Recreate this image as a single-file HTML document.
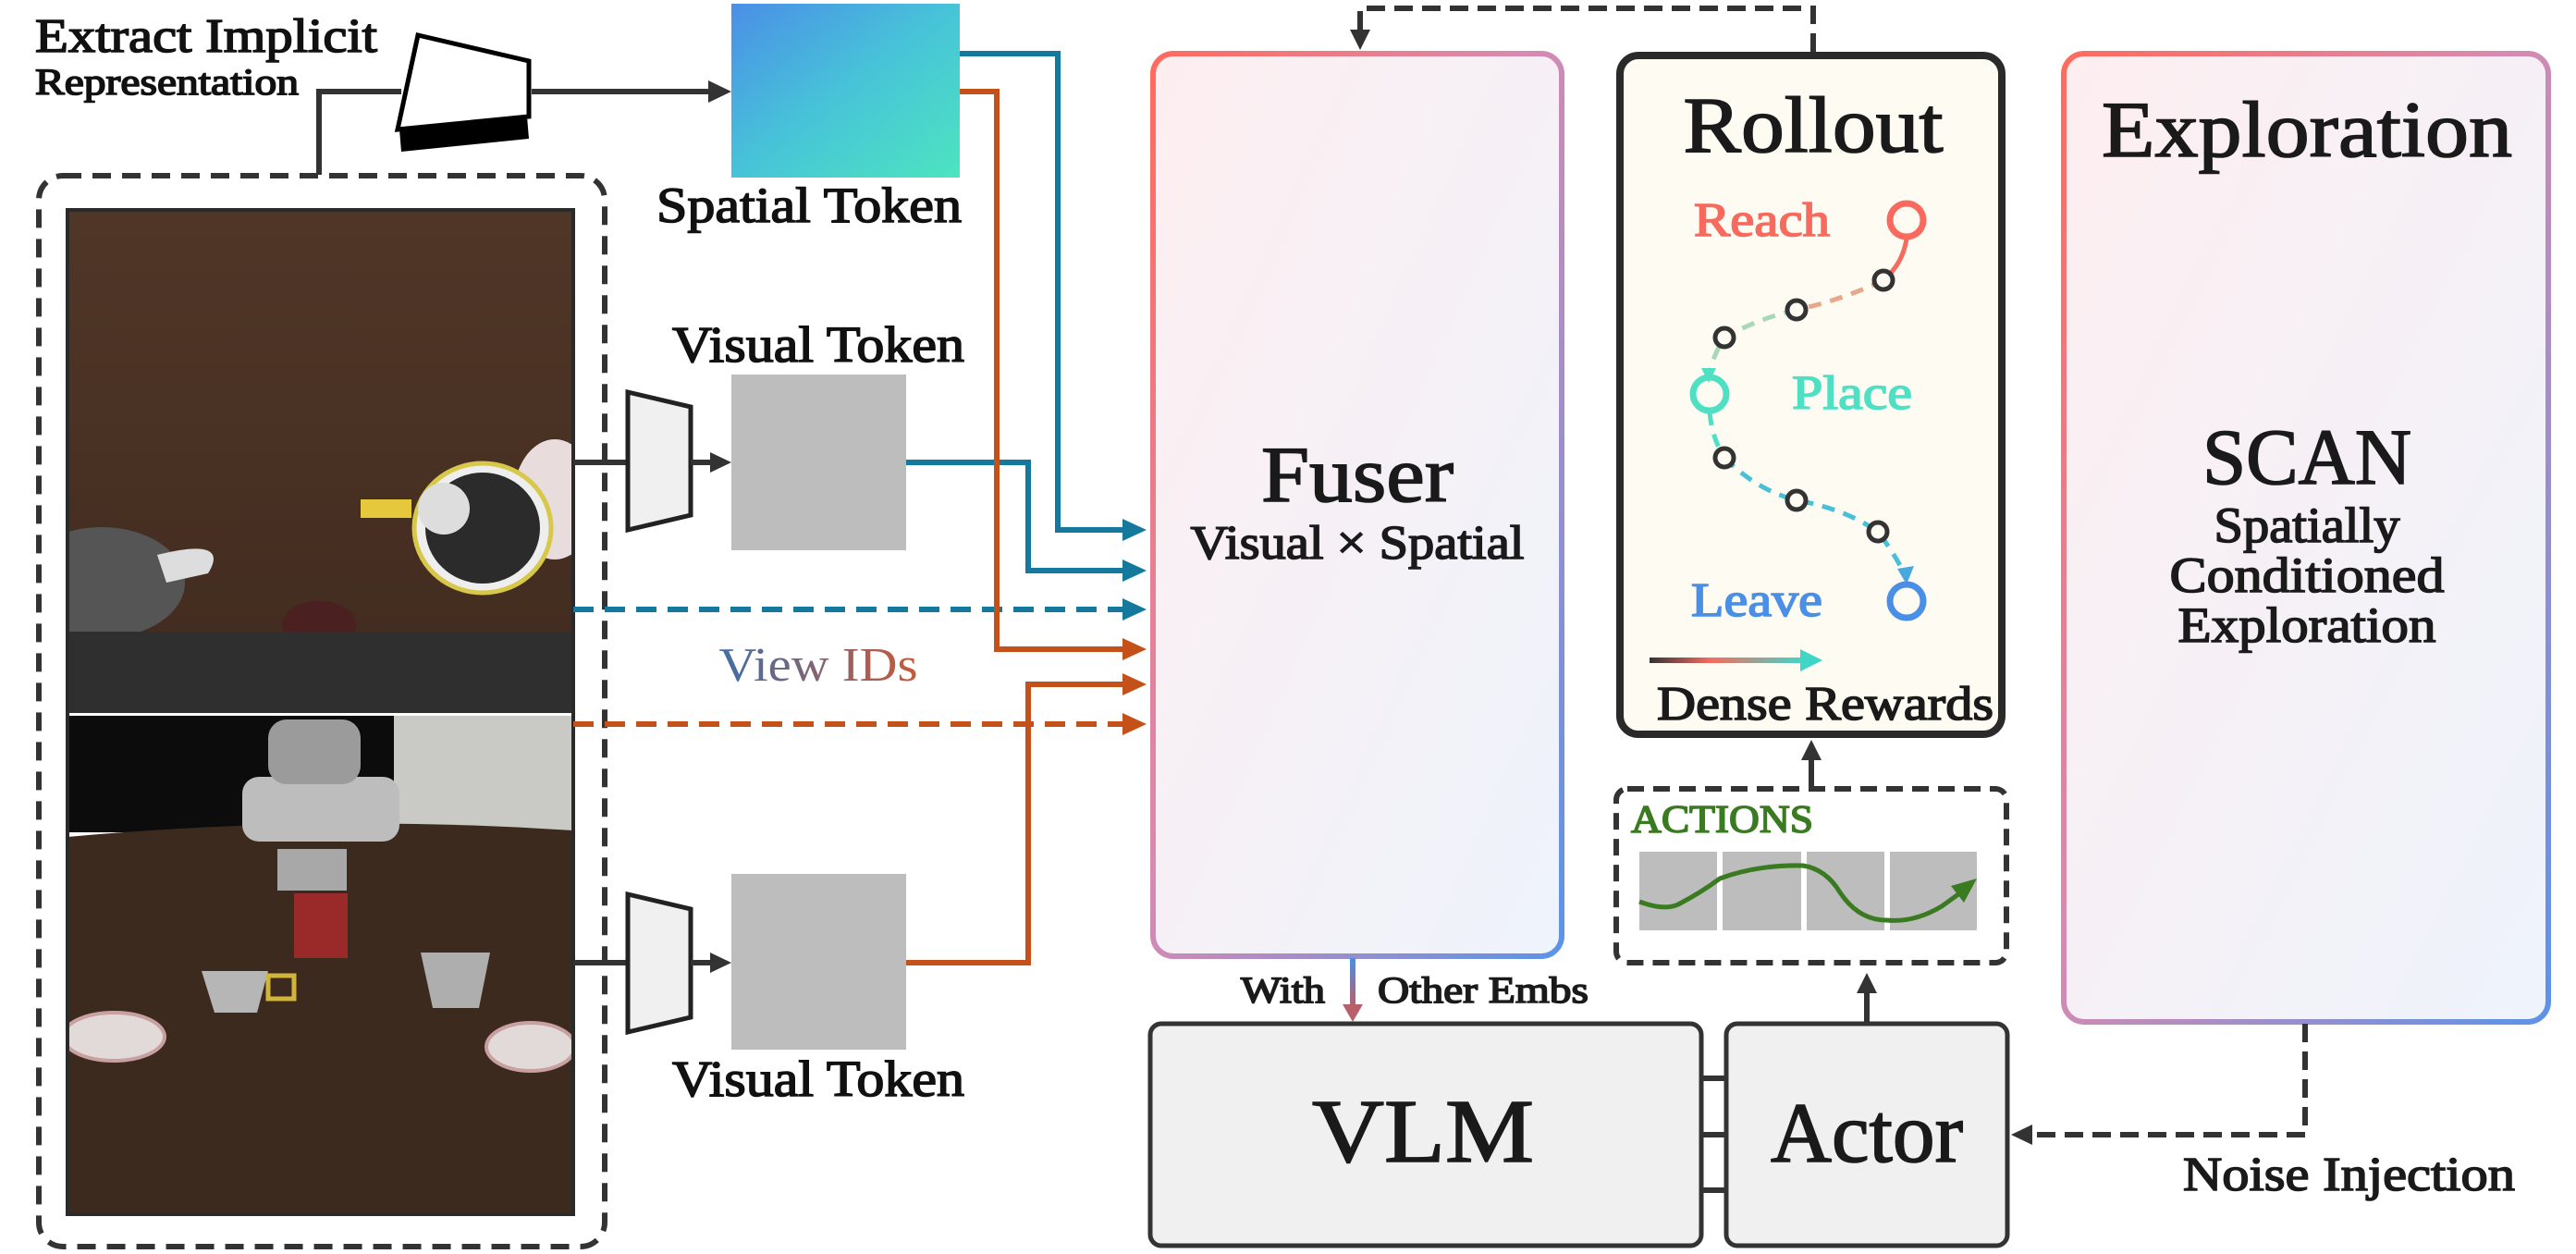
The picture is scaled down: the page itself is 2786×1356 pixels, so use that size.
<!DOCTYPE html>
<html><head><meta charset="utf-8"><style>
html,body{margin:0;padding:0;background:#fff;}
svg{display:block;}
text{font-family:"Liberation Serif",serif;stroke:currentColor;stroke-width:1.6px;}
</style></head><body>
<svg width="2786" height="1356" viewBox="0 0 2786 1356" xmlns="http://www.w3.org/2000/svg">
<defs>
<linearGradient id="sp" x1="0" y1="0" x2="1" y2="1"><stop offset="0" stop-color="#4a8fe6"/><stop offset="0.5" stop-color="#47c4d8"/><stop offset="1" stop-color="#4de4c0"/></linearGradient>
<linearGradient id="bord" x1="0" y1="0" x2="1" y2="1"><stop offset="0" stop-color="#ff6b5e"/><stop offset="0.45" stop-color="#d98ab0"/><stop offset="1" stop-color="#5b93e8"/></linearGradient>
<linearGradient id="fill" x1="0" y1="0" x2="1" y2="1"><stop offset="0" stop-color="#fdeef0"/><stop offset="1" stop-color="#eef3fc"/></linearGradient>
<linearGradient id="vid" x1="0" y1="0" x2="1" y2="0"><stop offset="0" stop-color="#3f6fa6"/><stop offset="1" stop-color="#c85a3a"/></linearGradient>
<linearGradient id="dr" x1="0" y1="0" x2="1" y2="0"><stop offset="0" stop-color="#333"/><stop offset="0.4" stop-color="#f56c5f"/><stop offset="1" stop-color="#3fd6c8"/></linearGradient>
<linearGradient id="we" x1="0" y1="0" x2="0" y2="1"><stop offset="0" stop-color="#4a90e2"/><stop offset="1" stop-color="#b8606a"/></linearGradient>
<linearGradient id="wood" x1="0" y1="0" x2="0" y2="1"><stop offset="0" stop-color="#503627"/><stop offset="1" stop-color="#432d20"/></linearGradient>
<clipPath id="imc"><rect x="73" y="227" width="547" height="1086"/></clipPath>
</defs>

<g color="#111" fill="#111">
<text x="38" y="56" font-size="52" textLength="370" lengthAdjust="spacingAndGlyphs">Extract Implicit</text>
<text x="38" y="102" font-size="40" textLength="285" lengthAdjust="spacingAndGlyphs">Representation</text>
</g>
<!-- encoder 3d -->
<polygon points="432,140 570,126 572,150 434,164" fill="#000"/>
<polygon points="452,38 572,66 572,126 430,140" fill="#fff" stroke="#000" stroke-width="5"/>
<polyline points="345,189 345,99 434,99" fill="none" stroke="#333" stroke-width="6"/>
<line x1="575" y1="99" x2="768" y2="99" stroke="#333" stroke-width="6"/>
<polygon points="766,87 791,99 766,111" fill="#333"/>

<!-- spatial token -->
<rect x="791" y="4" width="247" height="188" fill="url(#sp)"/>
<text x="875" y="240" font-size="54" text-anchor="middle" color="#111" fill="#111" textLength="330" lengthAdjust="spacingAndGlyphs">Spatial Token</text>

<!-- dashed box and image -->
<rect x="42" y="190" width="612" height="1158" rx="26" fill="none" stroke="#333" stroke-width="6" stroke-dasharray="20,12"/>
<g clip-path="url(#imc)">
<rect x="73" y="227" width="547" height="456" fill="url(#wood)"/>
<ellipse cx="600" cy="540" rx="45" ry="65" fill="#e8dcdc"/>
<ellipse cx="522" cy="571" rx="74" ry="70" fill="#eee" stroke="#d8c84a" stroke-width="5"/>
<ellipse cx="522" cy="571" rx="62" ry="60" fill="#2b2b2b"/>
<ellipse cx="480" cy="550" rx="28" ry="28" fill="#ddd"/>
<rect x="390" y="540" width="55" height="20" fill="#e6c83c"/>
<ellipse cx="110" cy="630" rx="90" ry="60" fill="#555"/>
<path d="M170,600 Q250,580 225,620 L180,630z" fill="#ddd"/>
<ellipse cx="345" cy="675" rx="40" ry="25" fill="#4a2020"/>
<rect x="73" y="683" width="547" height="88" fill="#2f2f2f"/>
<rect x="73" y="774" width="547" height="126" fill="#0c0c0c"/>
<rect x="426" y="774" width="194" height="126" fill="#c9c9c6"/>
<path d="M73,905 Q346,880 620,898 L620,1313 L73,1313z" fill="#3d2a1f"/>
<rect x="262" y="840" width="170" height="70" rx="18" fill="#bdbdbd"/>
<rect x="290" y="778" width="100" height="70" rx="20" fill="#9b9b9b"/>
<rect x="300" y="918" width="75" height="45" fill="#a8a8a8"/>
<rect x="318" y="966" width="58" height="70" fill="#9a2a2a"/>
<path d="M218,1050 L290,1050 L278,1095 L232,1095z" fill="#b6b6b6"/>
<rect x="290" y="1055" width="28" height="25" fill="none" stroke="#d1b53a" stroke-width="5"/>
<path d="M455,1030 L530,1030 L518,1090 L468,1090z" fill="#aeaeae"/>
<ellipse cx="123" cy="1121" rx="55" ry="26" fill="#e2d9d9" stroke="#c9a0a0" stroke-width="4"/>
<ellipse cx="574" cy="1132" rx="48" ry="26" fill="#e2d9d9" stroke="#c9a0a0" stroke-width="4"/>
</g>
<rect x="73" y="227" width="547" height="1086" fill="none" stroke="#2a2a2a" stroke-width="4"/>

<!-- visual tokens -->
<text x="885" y="391" font-size="55" text-anchor="middle" color="#111" fill="#111" textLength="316" lengthAdjust="spacingAndGlyphs">Visual Token</text>
<rect x="791" y="405" width="189" height="190" fill="#bdbdbd"/>
<line x1="620" y1="500" x2="679" y2="500" stroke="#333" stroke-width="6"/>
<polygon points="679,424 747,440 747,557 679,573" fill="#f0f0f0" stroke="#222" stroke-width="5"/>
<line x1="747" y1="500" x2="770" y2="500" stroke="#333" stroke-width="6"/>
<polygon points="768,489 791,500 768,511" fill="#333"/>

<rect x="791" y="945" width="189" height="190" fill="#bdbdbd"/>
<line x1="620" y1="1041" x2="679" y2="1041" stroke="#333" stroke-width="6"/>
<polygon points="679,967 747,983 747,1100 679,1116" fill="#f0f0f0" stroke="#222" stroke-width="5"/>
<line x1="747" y1="1041" x2="770" y2="1041" stroke="#333" stroke-width="6"/>
<polygon points="768,1030 791,1041 768,1052" fill="#333"/>
<text x="885" y="1185" font-size="55" text-anchor="middle" color="#111" fill="#111" textLength="316" lengthAdjust="spacingAndGlyphs">Visual Token</text>

<!-- colored connectors -->
<g fill="none" stroke-width="6">
<polyline points="1038,58 1144,58 1144,573 1220,573" stroke="#15799e"/>
<polyline points="980,500 1112,500 1112,617 1220,617" stroke="#15799e"/>
<line x1="620" y1="659" x2="1220" y2="659" stroke="#15799e" stroke-dasharray="22,12"/>
<polyline points="1038,99 1078,99 1078,702 1220,702" stroke="#c4511a"/>
<polyline points="980,1041 1112,1041 1112,740 1220,740" stroke="#c4511a"/>
<line x1="620" y1="783" x2="1220" y2="783" stroke="#c4511a" stroke-dasharray="22,12"/>
</g>
<g>
<polygon points="1214,561 1240,573 1214,585" fill="#15799e"/>
<polygon points="1214,605 1240,617 1214,629" fill="#15799e"/>
<polygon points="1214,647 1240,659 1214,671" fill="#15799e"/>
<polygon points="1214,690 1240,702 1214,714" fill="#c4511a"/>
<polygon points="1214,728 1240,740 1214,752" fill="#c4511a"/>
<polygon points="1214,771 1240,783 1214,795" fill="#c4511a"/>
</g>
<text x="885" y="736" font-size="52" text-anchor="middle" fill="url(#vid)" style="stroke:none" textLength="215" lengthAdjust="spacingAndGlyphs">View IDs</text>

<!-- fuser -->
<rect x="1247" y="58" width="442" height="976" rx="22" fill="url(#fill)" stroke="url(#bord)" stroke-width="6"/>
<g color="#1a1a1a" fill="#1a1a1a">
<text x="1468" y="542" font-size="86" text-anchor="middle" textLength="208" lengthAdjust="spacingAndGlyphs">Fuser</text>
<text x="1468" y="604" font-size="52" text-anchor="middle" textLength="361" lengthAdjust="spacingAndGlyphs">Visual × Spatial</text>
</g>

<!-- top dashed feedback -->
<polyline points="1961,56 1961,9 1471,9 1471,36" fill="none" stroke="#333" stroke-width="6" stroke-dasharray="20,10"/>
<polygon points="1460,32 1482,32 1471,54" fill="#333"/>

<!-- rollout -->
<rect x="1752" y="60" width="413" height="734" rx="20" fill="#fdfbf2" stroke="#2a2a2a" stroke-width="8"/>
<text x="1961" y="164" font-size="86" text-anchor="middle" color="#1a1a1a" fill="#1a1a1a" textLength="281" lengthAdjust="spacingAndGlyphs">Rollout</text>
<text x="1832" y="255" font-size="52" fill="#f86a5e" color="#f86a5e" textLength="147" lengthAdjust="spacingAndGlyphs">Reach</text>
<text x="1938" y="442" font-size="52" fill="#4fe0c4" color="#4fe0c4" textLength="130" lengthAdjust="spacingAndGlyphs">Place</text>
<text x="1829" y="666" font-size="52" fill="#4a8fe6" color="#4a8fe6" textLength="142" lengthAdjust="spacingAndGlyphs">Leave</text>
<g fill="none" stroke-width="5" stroke-dasharray="14,10">
<path d="M2062,258 Q2058,285 2037,303" stroke="#f86a5e" stroke-dasharray="none"/>
<path d="M2037,303 Q1990,325 1943,335" stroke="#e8a88a"/>
<path d="M1943,335 Q1900,345 1865,365 Q1852,385 1849,406" stroke="#a8d8b8"/>
<path d="M1849,446 Q1852,475 1865,495" stroke="#4fe0c4"/>
<path d="M1865,495 Q1900,530 1943,541 Q1995,550 2031,575 Q2050,600 2062,625" stroke="#47c0d8"/>
</g>
<polygon points="1840,398 1856,398 1848,414" fill="#4fe0c4"/>
<polygon points="2052,615 2070,612 2062,632" fill="#4aa8e0"/>
<circle cx="2062" cy="238" r="18" fill="none" stroke="#f86a5e" stroke-width="7"/>
<circle cx="1849" cy="426" r="18" fill="none" stroke="#4fe0c4" stroke-width="7"/>
<circle cx="2062" cy="650" r="18" fill="none" stroke="#4a8fe6" stroke-width="7"/>
<g fill="#fdfbf2" stroke="#333" stroke-width="5">
<circle cx="2037" cy="303" r="10"/><circle cx="1943" cy="335" r="10"/><circle cx="1865" cy="365" r="10"/>
<circle cx="1865" cy="495" r="10"/><circle cx="1943" cy="541" r="10"/><circle cx="2031" cy="575" r="10"/>
</g>
<rect x="1784" y="711" width="165" height="6" fill="url(#dr)"/>
<polygon points="1947,702 1971,714 1947,726" fill="#3fd6c8"/>
<text x="1792" y="778" font-size="52" color="#1a1a1a" fill="#1a1a1a" textLength="364" lengthAdjust="spacingAndGlyphs">Dense Rewards</text>

<!-- arrows up -->
<line x1="1959" y1="852" x2="1959" y2="820" stroke="#333" stroke-width="6"/>
<polygon points="1948,822 1970,822 1959,800" fill="#333"/>
<line x1="2019" y1="1105" x2="2019" y2="1072" stroke="#333" stroke-width="6"/>
<polygon points="2008,1074 2030,1074 2019,1052" fill="#333"/>

<!-- actions -->
<rect x="1748" y="853" width="422" height="188" rx="12" fill="none" stroke="#333" stroke-width="6" stroke-dasharray="18,10"/>
<text x="1764" y="900" font-size="42" fill="#3a7a20" color="#3a7a20" textLength="197" lengthAdjust="spacingAndGlyphs">ACTIONS</text>
<rect x="1773" y="921" width="84" height="85" fill="#bdbdbd"/>
<rect x="1863" y="921" width="85" height="85" fill="#bdbdbd"/>
<rect x="1954" y="921" width="84" height="85" fill="#bdbdbd"/>
<rect x="2044" y="921" width="94" height="85" fill="#bdbdbd"/>
<path d="M1773,975 Q1800,985 1815,978 Q1840,965 1860,950 Q1900,935 1950,936 Q1975,940 1990,965 Q2010,995 2040,995 Q2070,998 2100,980 L2118,967" fill="none" stroke="#3a7a20" stroke-width="5"/>
<polygon points="2110,958 2138,950 2124,976" fill="#3a7a20"/>

<!-- VLM / Actor -->
<rect x="1244" y="1107" width="596" height="240" rx="12" fill="#f0f0f0" stroke="#333" stroke-width="5"/>
<rect x="1867" y="1107" width="304" height="240" rx="12" fill="#f0f0f0" stroke="#333" stroke-width="5"/>
<g color="#1a1a1a" fill="#1a1a1a">
<text x="1539" y="1256" font-size="98" text-anchor="middle" textLength="240" lengthAdjust="spacingAndGlyphs">VLM</text>
<text x="2019" y="1256" font-size="92" text-anchor="middle" textLength="208" lengthAdjust="spacingAndGlyphs">Actor</text>
<text x="1342" y="1084" font-size="40" textLength="91" lengthAdjust="spacingAndGlyphs">With</text>
<text x="1490" y="1084" font-size="40" textLength="228" lengthAdjust="spacingAndGlyphs">Other Embs</text>
</g>
<g stroke="#333" stroke-width="6"><line x1="1840" y1="1166" x2="1867" y2="1166"/><line x1="1840" y1="1227" x2="1867" y2="1227"/><line x1="1840" y1="1287" x2="1867" y2="1287"/></g>

<!-- with other embs -->
<rect x="1460" y="1036" width="6" height="52" fill="url(#we)"/>
<polygon points="1452,1086 1474,1086 1463,1105" fill="#b8606a"/>

<!-- exploration -->
<rect x="2232" y="58" width="524" height="1047" rx="22" fill="url(#fill)" stroke="url(#bord)" stroke-width="6"/>
<g color="#1a1a1a" fill="#1a1a1a">
<text x="2495" y="169" font-size="86" text-anchor="middle" textLength="444" lengthAdjust="spacingAndGlyphs">Exploration</text>
<text x="2495" y="523" font-size="86" text-anchor="middle" textLength="226" lengthAdjust="spacingAndGlyphs">SCAN</text>
<text x="2495" y="586" font-size="54" text-anchor="middle" textLength="201" lengthAdjust="spacingAndGlyphs">Spatially</text>
<text x="2495" y="640" font-size="54" text-anchor="middle" textLength="297" lengthAdjust="spacingAndGlyphs">Conditioned</text>
<text x="2495" y="694" font-size="54" text-anchor="middle" textLength="279" lengthAdjust="spacingAndGlyphs">Exploration</text>
<text x="2361" y="1287" font-size="52" textLength="359" lengthAdjust="spacingAndGlyphs">Noise Injection</text>
</g>

<!-- noise injection -->
<polyline points="2493,1107 2493,1227 2196,1227" fill="none" stroke="#333" stroke-width="6" stroke-dasharray="20,10"/>
<polygon points="2198,1216 2198,1238 2175,1227" fill="#333"/>
</svg>
</body></html>
